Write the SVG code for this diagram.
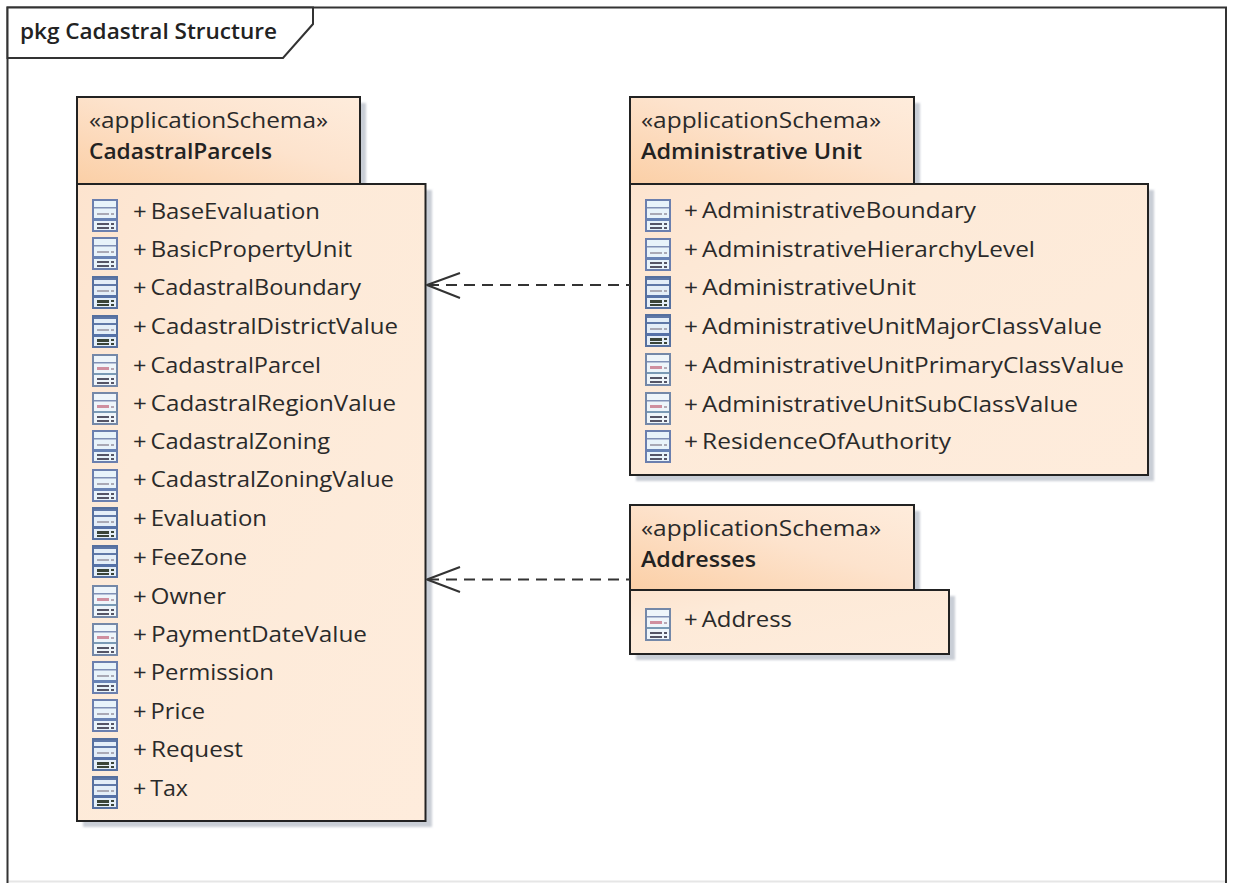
<svg xmlns="http://www.w3.org/2000/svg" width="1235" height="883" viewBox="0 0 1235 883">
<style>
text{font-family:"Open Sans","Noto Sans","Liberation Sans",sans-serif;fill:#2a2a2a;font-size:22px;word-spacing:-2px}
.b{font-weight:600;font-size:22px;word-spacing:0;fill:#222}
.hd{fill:url(#gh);stroke:#222;stroke-width:2}
.box{fill:url(#gb);stroke:#222;stroke-width:2}
.sh{fill:#c9ced6;filter:url(#bl)}
.conn{fill:none;stroke:#333;stroke-width:2;stroke-linejoin:round}
</style>
<defs>
<filter id="bl" x="-5%" y="-5%" width="110%" height="110%"><feGaussianBlur stdDeviation="1.2"/></filter>
<linearGradient id="gh" x1="0" y1="1" x2="1" y2="0"><stop offset="0" stop-color="#fbcfa6"/><stop offset=".55" stop-color="#fde3cd"/><stop offset="1" stop-color="#feecdc"/></linearGradient>
<linearGradient id="gb" x1="0" y1="0" x2="1" y2="1"><stop offset="0" stop-color="#fde4cf"/><stop offset=".3" stop-color="#fdead8"/><stop offset="1" stop-color="#feecdc"/></linearGradient>
<symbol id="ic" width="26" height="34" viewBox="0 0 26 34" overflow="visible">
<rect x="1" y="1" width="24" height="31" fill="#e8f3fa" stroke="#6b7fae" stroke-width="2"/>
<rect x="2" y="8" width="22" height="1.5" fill="#8090b5"/>
<rect x="2" y="19" width="22" height="3" fill="#6883b5"/>
<rect x="5" y="14" width="12" height="2" fill="#a9a9b5"/><rect x="19" y="14" width="3" height="2" fill="#a9a9b5"/>
<rect x="5" y="24" width="12" height="2" fill="#556"/><rect x="19" y="24" width="3" height="2" fill="#556"/>
<rect x="5" y="28" width="12" height="2" fill="#556"/><rect x="19" y="28" width="3" height="2" fill="#556"/>
</symbol>
<symbol id="icp" width="26" height="34" viewBox="0 0 26 34" overflow="visible">
<rect x="1" y="1" width="24" height="31" fill="#eef5fa" stroke="#7488a8" stroke-width="2"/>
<rect x="2" y="8" width="22" height="1.5" fill="#8090b5"/>
<rect x="2" y="19" width="22" height="2" fill="#7a9ab5"/>
<rect x="5" y="13" width="12" height="3" fill="#cf8f9f"/><rect x="19" y="14" width="3" height="2" fill="#b5a9b5"/>
<rect x="5" y="24" width="12" height="2" fill="#556"/><rect x="19" y="24" width="3" height="2" fill="#556"/>
<rect x="5" y="28" width="12" height="2" fill="#556"/><rect x="19" y="28" width="3" height="2" fill="#556"/>
</symbol>
<symbol id="icd" width="26" height="34" viewBox="0 0 26 34" overflow="visible">
<rect x="1" y="1" width="24" height="31" fill="#e4eef8" stroke="#56709f" stroke-width="2"/>
<rect x="2" y="2" width="22" height="2" fill="#5f78a8"/>
<rect x="2" y="8" width="22" height="2" fill="#5f78a8"/>
<rect x="2" y="19" width="22" height="3" fill="#5672a8"/>
<rect x="5" y="14" width="12" height="2" fill="#a9a9b5"/><rect x="19" y="14" width="3" height="2" fill="#a9a9b5"/>
<rect x="5" y="24" width="12" height="3" fill="#3a4438"/><rect x="19" y="24" width="3" height="2" fill="#3a4438"/>
<rect x="5" y="28" width="12" height="2" fill="#3a4438"/><rect x="19" y="28" width="3" height="2" fill="#3a4438"/>
</symbol>
</defs>
<rect width="1235" height="883" fill="#fff"/>
<g id="frame">
<path d="M7.5 881.5H1226" fill="none" stroke="#e6e6e6" stroke-width="2"/>
<path d="M7.5 883V7.5H1226V883" fill="none" stroke="#333" stroke-width="2"/>
<path d="M7.5 7.5H313V24L283 58H7.5Z" fill="#fff" stroke="#333" stroke-width="2"/>
<text x="20" y="39" class="b" textLength="257" lengthAdjust="spacingAndGlyphs">pkg Cadastral Structure</text>
</g>
<g id="CadastralParcels">
<rect class="sh" x="83" y="103" width="283" height="90"/><rect class="sh" x="83" y="190" width="349" height="637"/>
<rect class="hd" x="77" y="97" width="283" height="87"/>
<rect class="box" x="77" y="184" width="348.500" height="637"/>
<text x="89" y="128" textLength="239" lengthAdjust="spacingAndGlyphs">«applicationSchema»</text><text x="89" y="159" class="b" textLength="183" lengthAdjust="spacingAndGlyphs">CadastralParcels</text>
<g id="cp-rows">
<use href="#ic" x="92" y="199"/><text x="133" y="219" textLength="187" lengthAdjust="spacingAndGlyphs">+ BaseEvaluation</text>
<use href="#ic" x="92" y="237"/><text x="133" y="257" textLength="219" lengthAdjust="spacingAndGlyphs">+ BasicPropertyUnit</text>
<use href="#icd" x="92" y="276"/><text x="133" y="295" textLength="228" lengthAdjust="spacingAndGlyphs">+ CadastralBoundary</text>
<use href="#icd" x="92" y="315"/><text x="133" y="334" textLength="265" lengthAdjust="spacingAndGlyphs">+ CadastralDistrictValue</text>
<use href="#icp" x="92" y="354"/><text x="133" y="373" textLength="188" lengthAdjust="spacingAndGlyphs">+ CadastralParcel</text>
<use href="#icp" x="92" y="392"/><text x="133" y="411" textLength="263" lengthAdjust="spacingAndGlyphs">+ CadastralRegionValue</text>
<use href="#ic" x="92" y="430"/><text x="133" y="449" textLength="197" lengthAdjust="spacingAndGlyphs">+ CadastralZoning</text>
<use href="#ic" x="92" y="469"/><text x="133" y="487" textLength="261" lengthAdjust="spacingAndGlyphs">+ CadastralZoningValue</text>
<use href="#icd" x="92" y="507"/><text x="133" y="526" textLength="134" lengthAdjust="spacingAndGlyphs">+ Evaluation</text>
<use href="#icd" x="92" y="545"/><text x="133" y="565" textLength="114" lengthAdjust="spacingAndGlyphs">+ FeeZone</text>
<use href="#icp" x="92" y="585"/><text x="133" y="604" textLength="93" lengthAdjust="spacingAndGlyphs">+ Owner</text>
<use href="#icp" x="92" y="623"/><text x="133" y="642" textLength="234" lengthAdjust="spacingAndGlyphs">+ PaymentDateValue</text>
<use href="#ic" x="92" y="661"/><text x="133" y="680" textLength="141" lengthAdjust="spacingAndGlyphs">+ Permission</text>
<use href="#ic" x="92" y="699"/><text x="133" y="719" textLength="72" lengthAdjust="spacingAndGlyphs">+ Price</text>
<use href="#icd" x="92" y="738"/><text x="133" y="757" textLength="110" lengthAdjust="spacingAndGlyphs">+ Request</text>
<use href="#icd" x="92" y="776"/><text x="133" y="796" textLength="55" lengthAdjust="spacingAndGlyphs">+ Tax</text>
</g>
</g>
<g id="AdministrativeUnit">
<rect class="sh" x="636" y="103" width="284" height="90"/><rect class="sh" x="636" y="190" width="518" height="291"/>
<rect class="hd" x="630" y="97" width="284" height="87"/>
<rect class="box" x="630" y="184" width="518" height="291"/>
<text x="641" y="128" textLength="240" lengthAdjust="spacingAndGlyphs">«applicationSchema»</text><text x="641" y="159" class="b" textLength="221" lengthAdjust="spacingAndGlyphs">Administrative Unit</text>
<use href="#ic" x="645" y="199"/><text x="684" y="218" textLength="292" lengthAdjust="spacingAndGlyphs">+ AdministrativeBoundary</text>
<use href="#ic" x="645" y="238"/><text x="684" y="257" textLength="351" lengthAdjust="spacingAndGlyphs">+ AdministrativeHierarchyLevel</text>
<use href="#icd" x="645" y="276"/><text x="684" y="295" textLength="232" lengthAdjust="spacingAndGlyphs">+ AdministrativeUnit</text>
<use href="#icd" x="645" y="314"/><text x="684" y="334" textLength="418" lengthAdjust="spacingAndGlyphs">+ AdministrativeUnitMajorClassValue</text>
<use href="#icp" x="645" y="353"/><text x="684" y="373" textLength="440" lengthAdjust="spacingAndGlyphs">+ AdministrativeUnitPrimaryClassValue</text>
<use href="#icp" x="645" y="392"/><text x="684" y="412" textLength="394" lengthAdjust="spacingAndGlyphs">+ AdministrativeUnitSubClassValue</text>
<use href="#ic" x="645" y="430"/><text x="684" y="449" textLength="267" lengthAdjust="spacingAndGlyphs">+ ResidenceOfAuthority</text>
</g>
<g id="Addresses">
<rect class="sh" x="636" y="511" width="284" height="86"/><rect class="sh" x="636" y="596" width="319" height="64"/>
<rect class="hd" x="630" y="505" width="284" height="85"/>
<rect class="box" x="630" y="590" width="319" height="64"/>
<text x="641" y="536" textLength="240" lengthAdjust="spacingAndGlyphs">«applicationSchema»</text><text x="641" y="567" class="b" textLength="115" lengthAdjust="spacingAndGlyphs">Addresses</text>
<use href="#icp" x="645" y="608"/><text x="684" y="627" textLength="108" lengthAdjust="spacingAndGlyphs">+ Address</text>
</g>
<g id="connectors">
<path class="conn" d="M428 285H630" stroke-dasharray="11 7"/>
<path class="conn" d="M460 273L427 285L460 298"/>
<path class="conn" d="M428 579.500H630" stroke-dasharray="11 7"/>
<path class="conn" d="M460 567L427 579.500L460 592"/>
</g>
</svg>
